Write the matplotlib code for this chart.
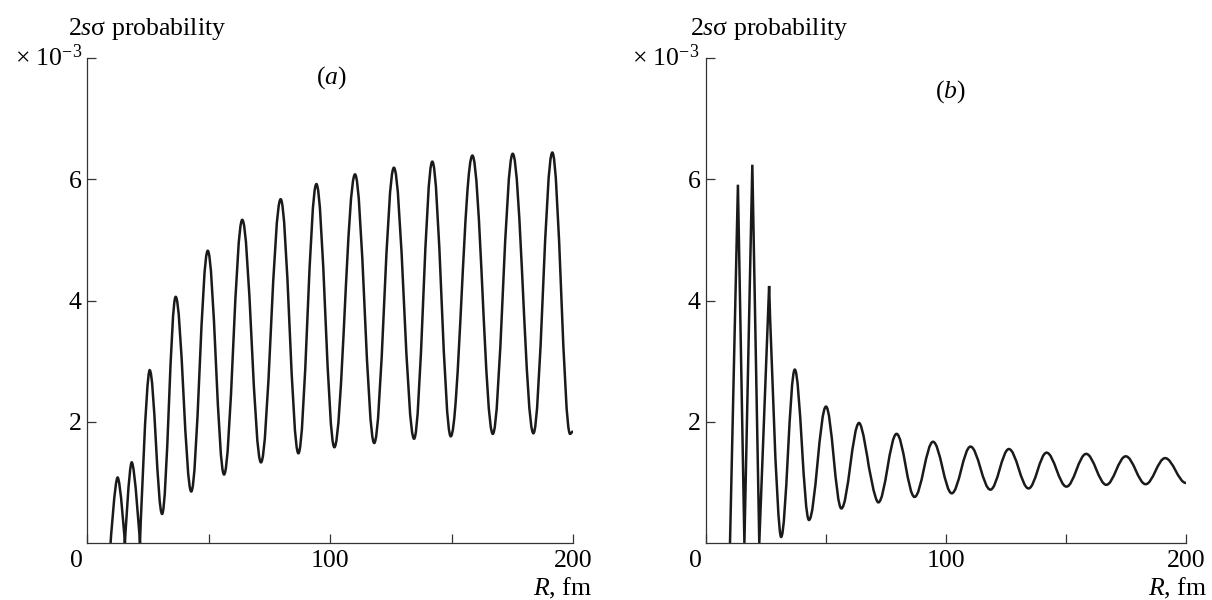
import matplotlib
matplotlib.use('Agg')
import matplotlib.pyplot as plt
from matplotlib.path import Path
from matplotlib.patches import PathPatch

plt.rcParams['font.family'] = ['Liberation Serif', 'DejaVu Serif']
plt.rcParams['mathtext.fontset'] = 'custom'
plt.rcParams['mathtext.rm'] = 'Liberation Serif'
plt.rcParams['mathtext.it'] = 'Liberation Serif:italic'

# extrema of the 2s-sigma probability curves (R in fm, value x 1e-3)
r_a = [9.7, 12.6, 15.6, 18.4, 21.8, 25.8, 30.9, 36.5, 42.9, 49.7, 56.4, 63.9, 71.6,
       79.7, 87.0, 94.4, 101.8, 110.3, 118.2, 126.3, 134.6, 142.1, 149.7, 158.6,
       167.0, 175.2, 183.7, 191.5, 198.8, 200.0]
p_a = [0.0, 1.08, 0.0, 1.33, 0.0, 2.85, 0.48, 4.06, 0.85, 4.82, 1.13, 5.33, 1.33,
       5.67, 1.48, 5.92, 1.58, 6.08, 1.65, 6.19, 1.72, 6.29, 1.76, 6.39,
       1.80, 6.42, 1.81, 6.44, 1.80, 1.84]
corners_a = [0, 2, 4]

r_b = [10.0, 13.3, 16.0, 19.3, 22.2, 26.3, 31.3, 37.0, 42.9, 50.0, 56.4, 63.8, 67.6,
       71.8, 79.4, 86.9, 94.6, 102.4, 110.2, 118.5, 126.2, 134.4, 141.9, 150.2,
       158.4, 166.8, 174.9, 183.2, 191.3, 200.0]
p_b = [0.0, 5.91, 0.0, 6.24, 0.0, 4.24, 0.10, 2.86, 0.38, 2.25, 0.57, 1.98, 1.32,
       0.67, 1.80, 0.76, 1.67, 0.82, 1.59, 0.88, 1.55, 0.90, 1.49, 0.93,
       1.47, 0.96, 1.43, 0.97, 1.40, 0.99]
corners_b = [0, 1, 2, 3, 4, 5, 12]

x_ticks = [0, 50, 100, 150, 200]
x_labels = ['', '', '100', '', '200']
y_ticks = [2, 4, 6, 8]
y_labels = ['2', '4', '6', '']


def curve_path(r, p, corners, k=0.36):
    # smooth curve through the extrema, horizontal tangent at each one
    verts = [(r[0], p[0])]
    codes = [Path.MOVETO]
    for i in range(len(r) - 1):
        dr = r[i + 1] - r[i]
        c1 = (r[i], p[i]) if i in corners else (r[i] + k * dr, p[i])
        c2 = (r[i + 1], p[i + 1]) if (i + 1) in corners else (r[i + 1] - k * dr, p[i + 1])
        verts += [c1, c2, (r[i + 1], p[i + 1])]
        codes += [Path.CURVE4] * 3
    return Path(verts, codes)


def setup_axes(ax):
    ax.set_xlim(0, 200)
    ax.set_ylim(0, 8)
    for side in ['top', 'right']:
        ax.spines[side].set_visible(False)
    for side in ['left', 'bottom']:
        ax.spines[side].set_linewidth(0.9)
        ax.spines[side].set_color('#333333')
    ax.set_xticks(x_ticks)
    ax.set_xticklabels(x_labels)
    ax.set_yticks(y_ticks)
    ax.set_yticklabels(y_labels)
    ax.tick_params(direction='in', length=6.5, width=0.9, color='#333333',
                   labelsize=18.5)
    ax.tick_params(axis='x', pad=5)
    ax.tick_params(axis='y', pad=4)
    ax.annotate('0', xy=(0, 0), xytext=(-3, -5), textcoords='offset points',
                ha='right', va='top', fontsize=18.5)


fig = plt.figure(figsize=(12.12, 6.0), dpi=100)
ax_a = fig.add_axes([87 / 1212, 57 / 600, 486 / 1212, 485 / 600])
ax_b = fig.add_axes([706 / 1212, 57 / 600, 480 / 1212, 485 / 600])

for ax, r, p, corners in [(ax_a, r_a, p_a, corners_a), (ax_b, r_b, p_b, corners_b)]:
    setup_axes(ax)
    ax.add_patch(PathPatch(curve_path(r, p, corners), fill=False, lw=1.8,
                           ec='#1a1a1a', joinstyle='miter'))

# labels
for x_left, x_right, tag, tag_xy in [(68, 82, '(a)', (331, 78)),
                                     (690, 699, '(b)', (950, 92))]:
    fig.text(x_left / 1212, 1 - 35 / 600, r'2$\mathit{s}$σ probability',
             ha='left', va='baseline', fontsize=18.5)
    fig.text(x_right / 1212, 1 - 66 / 600, r'× 10$^{-3}$',
             ha='right', va='baseline', fontsize=18.5)
    fig.text(tag_xy[0] / 1212, 1 - tag_xy[1] / 600,
             '(' + r'$\mathit{' + tag[1] + '}$' + ')',
             ha='center', va='center', fontsize=18.5)

for x_right in [592, 1207]:
    fig.text(x_right / 1212, 1 - 595 / 600, r'$\mathit{R}$, fm',
             ha='right', va='baseline', fontsize=18.5)

fig.savefig('out.png', dpi=100)
